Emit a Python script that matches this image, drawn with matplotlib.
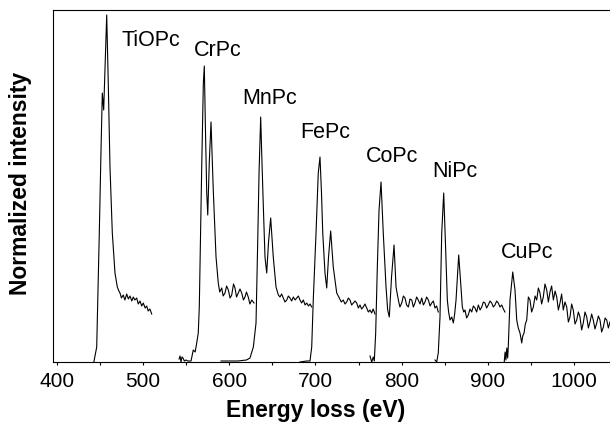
import matplotlib
matplotlib.use("Agg")
import matplotlib.pyplot as plt
from matplotlib.ticker import MultipleLocator

plt.rcParams['font.family'] = ['Liberation Sans', 'DejaVu Sans']

# L2,3 edges, energy loss (eV) and normalized intensity (a.u.)
ti_e = [443, 446.3, 449.3, 451.3, 452.8, 454.4, 457.9, 459.7, 461.7, 464.4, 467.5, 470.2,
        472, 473.3, 475, 477.1, 479, 481.1, 483, 484.9, 487, 488.7, 490.5, 492.7, 494.5,
        496.5, 498.5, 500.3, 502.5, 504.3, 506, 508, 510.1]
ti_i = [0, 15, 129, 212, 269, 252, 347, 279, 195, 129, 89, 75,
        71, 69, 64, 67, 62, 68, 63, 66, 61, 65, 62, 64, 58,
        61, 56, 59, 54, 56, 51, 53, 48]

cr_e = [541.8, 543, 544.1, 545.2, 546.4, 548, 549.9, 552, 555.7, 558.3, 560.5, 562.3, 564.1,
        565.3, 566.1, 568.1, 570, 571.1, 572.5, 573.9, 575.1, 576.9, 578.9, 581.5, 584.7,
        587.3, 589, 591.3, 593, 595.1, 597, 599, 601, 602.9, 605, 606.7, 608.5, 610.5, 612.5,
        614.5, 616.5, 618.3, 620, 622.1, 624, 626.1, 628.8]
cr_i = [3, 6, 0, 5, 4, 1, 2, 1, 1, 12, 10, 19, 29,
        55, 95, 195, 279, 296, 230, 170, 147, 200, 240, 172, 105,
        79, 70, 74, 66, 69, 76, 72, 64, 67, 78, 74, 65, 69, 73,
        69, 62, 65, 70, 65, 58, 62, 59]

mn_e = [590.5, 600, 610, 620, 624.1, 628, 631.1, 633.1, 634.6, 636.5, 638, 639.6, 641.5,
        643.5, 645.6, 648.1, 651.1, 654.3, 657, 658.9, 660.8, 662.7, 664.7, 666.7, 668.6,
        670.5, 672.4, 674.4, 676.4, 678.3, 680.2, 682.1, 684, 686, 688, 689.9, 692, 693.8, 695.7]
mn_i = [1, 1, 1, 2, 4, 15, 39, 122, 189, 245, 200, 155, 105,
        89, 120, 144, 105, 75, 67, 65, 68, 64, 60, 62, 66,
        64, 61, 65, 62, 64, 66, 62, 59, 62, 57, 59, 56, 58, 55]

fe_e = [682.1, 690, 693.7, 695.7, 697.5, 700.7, 703.3, 705.3, 707, 708.5, 711.1, 713.1,
        715.2, 717.7, 720.7, 724.7, 727.7, 730, 732.3, 734.3, 736.3, 738.2, 740.1, 742, 744,
        746, 747.9, 749.8, 751.7, 753.6, 755.5, 757.5, 759.5, 761.4, 763.3, 765.2, 767, 769.1]
fe_i = [0, 1, 1, 15, 62, 129, 189, 205, 170, 129, 89, 74,
        105, 131, 95, 69, 64, 60, 62, 58, 60, 64, 62, 57, 59,
        61, 59, 54, 57, 53, 55, 58, 54, 50, 52, 49, 53, 48]

co_e = [763.3, 765.3, 767.1, 768.3, 769.9, 771.8, 773.8, 776.1, 778.7, 781.9, 783.8, 785.7,
        788.3, 791.2, 793.5, 796.2, 798, 800.1, 802, 803.9, 805.8, 807.8, 809.7, 811.7, 813.6,
        815.5, 817.4, 819.3, 821.3, 823.3, 825.2, 827.1, 829, 831, 833, 834.9, 836.8, 838.7,
        840.6, 842.5]
co_i = [6, 0, 5, 1, 29, 95, 152, 180, 129, 75, 52, 45,
        85, 117, 75, 62, 55, 59, 66, 64, 57, 55, 63, 62, 55,
        59, 65, 62, 58, 64, 57, 60, 65, 62, 56, 59, 61, 54,
        56, 50]

ni_e = [838.7, 840.7, 842.5, 844.5, 846.5, 848.8, 851.1, 853, 854.5, 856.1, 858.1, 860,
        861.5, 863.1, 866.2, 868.5, 870.4, 872, 873.5, 875.4, 877.3, 879.3, 881.3, 883.2,
        885.1, 887, 889, 891, 892.9, 894.8, 896.7, 898.6, 900.5, 902.5, 904.5, 906.4, 908.3,
        910.2, 912.1, 914.1, 916.1, 918, 919.9]
ni_i = [2, 0, 9, 45, 129, 169, 112, 62, 50, 42, 45, 39,
        48, 62, 107, 79, 55, 50, 52, 44, 47, 53, 50, 56,
        54, 50, 57, 52, 55, 60, 59, 54, 57, 61, 59, 55, 57,
        61, 59, 55, 57, 53, 50]

cu_e = [919, 920, 921, 922, 923, 923.7, 925.7, 928.9, 931.5, 933.5, 935.3, 937.3, 939.3,
        940.5, 942, 943.5, 945.1, 947, 948.9, 950.8, 952.8, 954.8, 956.7, 958.6, 960.5,
        962.4, 964.3, 966.3, 968.3, 970.2, 972.1, 974, 976, 978, 979.9, 981.8, 983.7, 985.6,
        987.5, 989.5, 991.5, 993.4, 995.3, 997.2, 999.1, 1001.1, 1003.1, 1005, 1006.9,
        1008.8, 1010.7, 1012.7, 1014.7, 1016.6, 1018.5, 1020.4, 1022.3, 1024.3, 1026.3,
        1028.2, 1030.1, 1032, 1034, 1036, 1037.9, 1039.8, 1041.7]
cu_i = [0, 10, 2, 14, 4, 15, 62, 90, 72, 42, 34, 29, 19,
        26, 29, 38, 42, 65, 62, 50, 55, 66, 62, 74, 69,
        58, 65, 78, 72, 60, 70, 76, 62, 71, 65, 52, 59, 68,
        52, 60, 55, 40, 45, 58, 52, 38, 42, 50, 45,
        32, 39, 50, 45, 34, 40, 48, 42, 33, 39, 46,
        42, 30, 35, 44, 42, 34, 40]

names = ['TiOPc', 'CrPc', 'MnPc', 'FePc', 'CoPc', 'NiPc', 'CuPc']
label_e = [509.3, 586.4, 647.3, 711.5, 788.5, 861.9, 945.1]
label_i = [322, 312, 263, 229, 205, 190.5, 109.5]

spectra = [(ti_e, ti_i), (cr_e, cr_i), (mn_e, mn_i), (fe_e, fe_i),
           (co_e, co_i), (ni_e, ni_i), (cu_e, cu_i)]

fig = plt.figure(figsize=(6.1, 4.25), dpi=100)
ax = fig.add_axes([53/610, 63/425, 557/610, 352/425])

for e, i in spectra:
    ax.plot(e, i, color='black', lw=0.8)

for n, x, y in zip(names, label_e, label_i):
    ax.text(x, y, n, fontsize=15.5, ha='center', va='center')

ax.set_xlim(395.6, 1041.7)
ax.set_ylim(0, 352)
ax.xaxis.set_major_locator(MultipleLocator(100))
ax.xaxis.set_minor_locator(MultipleLocator(50))
ax.tick_params(axis='x', which='both', direction='out', length=2.5, width=0.8,
               labelsize=15, pad=5, top=False)
ax.set_yticks([])
ax.spines['right'].set_visible(False)
for s in ['left', 'bottom', 'top']:
    ax.spines[s].set_linewidth(0.8)

fig.text(316/610, 1 - 410/425, 'Energy loss (eV)', fontsize=16.5, fontweight='bold',
         ha='center', va='center')
fig.text(21/610, 1 - 183/425, 'Normalized intensity', fontsize=16.5, fontweight='bold',
         ha='center', va='center', rotation=90)

fig.savefig('out.png', dpi=100)
